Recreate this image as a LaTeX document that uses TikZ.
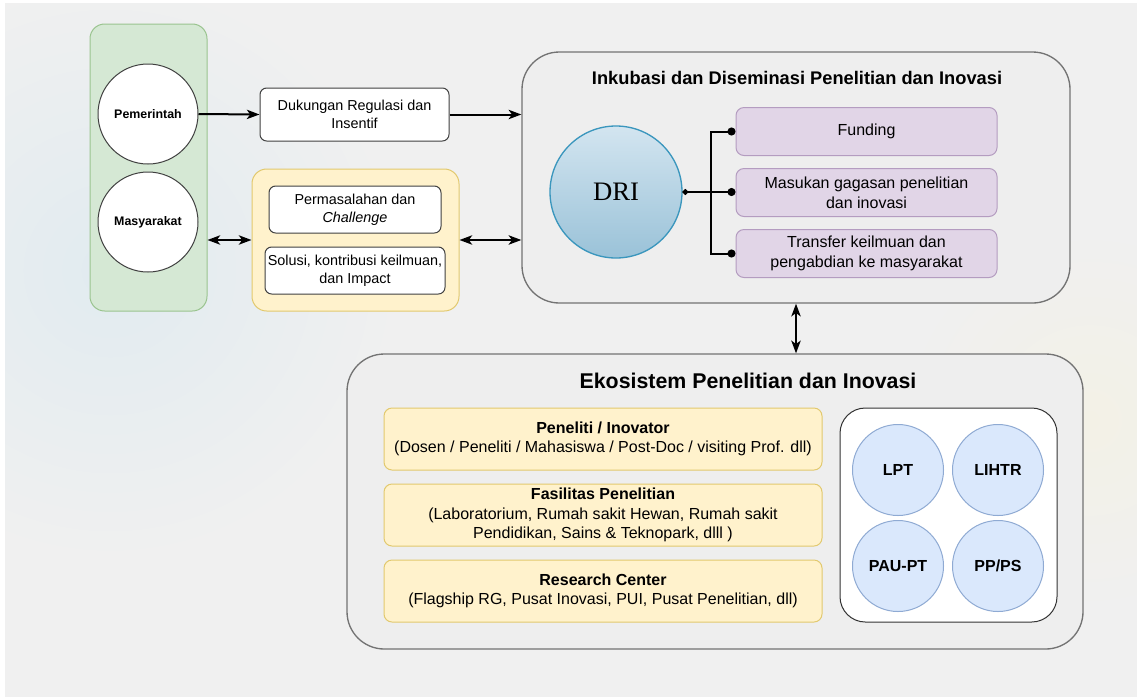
\documentclass[tikz,border=0pt]{standalone}
\usepackage{fontspec}
\setmainfont{Liberation Sans}
\newfontfamily\drifont{Liberation Serif}
\usetikzlibrary{arrows.meta,positioning}

\definecolor{bgfill}{HTML}{F0F0F0}
\definecolor{bgblue}{HTML}{E1EBF0}
\definecolor{bgyel}{HTML}{F3F1E6}
\definecolor{contfill}{HTML}{EEEEEE}
\definecolor{grnfill}{HTML}{D5E8D4}
\definecolor{grnline}{HTML}{9AC48F}
\definecolor{ylwfill}{HTML}{FFF2CC}
\definecolor{ylwline}{HTML}{E2C96E}
\definecolor{prpfill}{HTML}{E1D5E7}
\definecolor{prpline}{HTML}{B49CC0}
\definecolor{blufill}{HTML}{DAE8FC}
\definecolor{bluline}{HTML}{8FAAD3}
\definecolor{dritop}{HTML}{D3E5F0}
\definecolor{dribot}{HTML}{9AC2D8}
\definecolor{driline}{HTML}{3A96BD}

\begin{document}
\begin{tikzpicture}[x=0.75pt, y=-0.75pt, thick, node distance={75pt},
    cont/.style = {draw=black!55, fill=contfill, rounded corners=28pt, line width=1pt},
    box/.style = {draw=black!75, fill=white, rounded corners=5pt, line width=0.75pt, align=center, inner sep=0pt, font=\fontsize{10.8}{13.5}\selectfont},
    main/.style = {draw=black!75, fill=white, circle, line width=0.75pt, minimum size=75pt, inner sep=0pt, font=\bfseries\fontsize{9.3}{11}\selectfont},
    prp/.style = {draw=prpline, fill=prpfill, rounded corners=6pt, line width=0.75pt, minimum width=195.75pt, minimum height=36pt, align=center, inner sep=0pt, font=\fontsize{12}{15}\selectfont},
    ylw/.style = {draw=ylwline, fill=ylwfill, rounded corners=6pt, line width=0.75pt, minimum width=328.5pt, minimum height=46.5pt, align=center, inner sep=0pt, font=\fontsize{12}{14.4}\selectfont},
    org/.style = {draw=bluline, fill=blufill, circle, line width=0.75pt, minimum size=68.25pt, inner sep=0pt, font=\bfseries\fontsize{12}{14}\selectfont},
    arr/.style = {line width=1.5pt, -{Stealth[length=9.5pt, width=7pt, inset=2.5pt]}},
    darr/.style = {line width=1.5pt, {Stealth[length=9.5pt, width=7pt, inset=2.5pt]}-{Stealth[length=9.5pt, width=7pt, inset=2.5pt]}},
    dot/.style = {line width=1.5pt, {Circle[length=4pt]}-{Circle[length=6pt]}}]

    % background
    \useasboundingbox (0,0) rectangle (1137,697);
    \fill[white] (0,0) rectangle (1137,697);
    \begin{scope}
        \clip (5,3) rectangle (1137,697);
        \fill[bgfill] (5,3) rectangle (1137,697);
        \shade[inner color=bgblue, outer color=bgfill] (110,270) circle (290);
        \shade[inner color=bgyel, outer color=bgfill] (1090,420) circle (190);
    \end{scope}

    % left column
    \node[draw=grnline, fill=grnfill, rounded corners=11pt, line width=0.75pt, minimum width=87.75pt, minimum height=215.25pt] (grn) at (148.5,167.5) {};
    \node[main] (pem) at (148,114) {Pemerintah};
    \node[main] (mas) at (148,222) {Masyarakat};

    \node[box, minimum width=141.75pt, minimum height=39.75pt] (duk) at (354.5,114.5) {Dukungan Regulasi dan\\Insentif};

    \node[draw=ylwline, fill=ylwfill, rounded corners=11pt, line width=0.75pt, minimum width=155.25pt, minimum height=106.5pt] (yel) at (355.5,240) {};
    \node[box, minimum width=129pt, minimum height=35.25pt] (prm) at (355,209.5) {Permasalahan dan\\\textit{Challenge}};
    \node[box, minimum width=135pt, minimum height=35.25pt] (sol) at (355,270.5) {Solusi, kontribusi keilmuan,\\dan Impact};

    % incubation
    \node[cont, minimum width=411pt, minimum height=188.25pt] (ink) at (796,177.5) {};
    \node[font=\bfseries\fontsize{13.7}{16}\selectfont] (inkt) at (797,78) {Inkubasi dan Diseminasi Penelitian dan Inovasi};
    \node[circle, draw=driline, top color=dritop, bottom color=dribot, line width=1pt, minimum size=99pt, inner sep=0pt, font=\drifont\fontsize{20}{24}\selectfont] (dri) at (616,192) {DRI};
    \node[prp] (fund) at (866.5,131.5) {Funding};
    \node[prp] (msk) [below of=fund, node distance=45.75pt] {Masukan gagasan penelitian\\dan inovasi};
    \node[prp] (tra) [below of=msk, node distance=45.75pt] {Transfer keilmuan dan\\pengabdian ke masyarakat};

    % ecosystem
    \node[cont, minimum width=552pt, minimum height=221.25pt] (eko) at (715,501.5) {};
    \node[font=\bfseries\fontsize{16}{19}\selectfont] (ekot) at (748,381) {Ekosistem Penelitian dan Inovasi};
    \node[ylw] (pnl) at (603,439) {\textbf{Peneliti / Inovator}\\(Dosen / Peneliti / Mahasiswa / Post-Doc / visiting Prof. dll)};
    \node[ylw] (fas) [below of=pnl, node distance=57pt] {\textbf{Fasilitas Penelitian}\\(Laboratorium, Rumah sakit Hewan, Rumah sakit\\Pendidikan, Sains \& Teknopark, dlll )};
    \node[ylw] (rc) [below of=fas, node distance=57pt] {\textbf{Research Center}\\(Flagship RG, Pusat Inovasi, PUI, Pusat Penelitian, dll)};
    \node[draw=black!80, fill=white, rounded corners=19pt, line width=0.75pt, minimum width=162.75pt, minimum height=160.5pt] (unit) at (948.5,515) {};
    \node[org] (lpt) at (898,470) {LPT};
    \node[org] (liht) [right of=lpt] {LIHTR};
    \node[org] (pau) [below of=lpt, node distance=72pt] {PAU-PT};
    \node[org] (pps) [right of=pau] {PP/PS};

    % connectors
    \draw[arr] (pem.east) -- (duk.west);
    \draw[arr] (duk.east) -- (duk.east -| ink.west);
    \draw[darr] (yel.west -| grn.east) -- (yel.west);
    \draw[darr] (yel.east) -- (yel.east -| ink.west);
    \draw[darr] (ink.south) -- (ink.south |- eko.north);
    \draw[dot] (dri.east) -- ++(28,0) |- (fund.west);
    \draw[dot] (dri.east) -- (dri.east -| msk.west);
    \draw[dot] (dri.east) -- ++(28,0) |- (tra.west);
\end{tikzpicture}
\end{document}
